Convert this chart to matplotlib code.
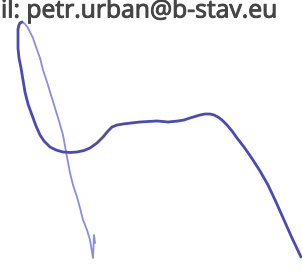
import matplotlib.pyplot as plt
import matplotlib.patheffects as pe

# light up-stroke, from the hook at the bottom up to the top of the loop
up_x = [95, 94, 93, 90, 87, 83, 80, 77, 73, 70, 67, 65, 63, 59, 55, 51, 47, 43, 40,
        36, 33, 30, 28, 25, 22]
up_y = [243, 235, 258, 240, 230, 220, 208, 197, 185, 173, 157, 146, 135, 121, 108, 95,
        82, 70, 58, 47, 38, 32, 28, 24, 22]

# darker main stroke, down the left side, along the top and off to the right
main_x = [22, 20, 19, 18, 18, 18, 19, 21, 23, 25, 28, 32, 36, 40, 44, 50, 56, 63, 70,
          77, 84, 90, 97, 103, 108, 112, 117, 123, 131, 140, 148, 157, 163, 168, 173,
          178, 184, 190, 195, 200, 205, 210, 214, 218, 222, 227, 232, 237, 244, 251,
          260, 268, 276, 284, 292, 301]
main_y = [22, 23, 25, 29, 36, 48, 58, 68, 80, 92, 104, 115, 126, 135, 141, 147, 150, 152,
          152.5, 152, 150.5, 148, 143, 137, 131, 127, 125, 124, 123, 122, 121.5, 121,
          121.5, 122, 121.5, 121, 120, 118, 116.5, 115, 114, 114, 115, 117, 120, 125,
          131, 138, 147, 157, 171, 185, 202, 220, 238, 257]

label = "il: petr.urban@b-stav.eu"

fig = plt.figure(figsize=(3.02, 2.71), dpi=100)
ax = fig.add_axes([0, 0, 1, 1])
ax.set_xlim(0, 302)
ax.set_ylim(271, 0)
ax.axis('off')

ax.plot(up_x, up_y, color='#8c8ce0', lw=1.3, solid_capstyle='round',
        solid_joinstyle='round')
ax.plot(main_x, main_y, color='#4a4ab4', lw=2.0, solid_capstyle='round',
        solid_joinstyle='round')

t = ax.text(1, 17.5, label, fontsize=14.6, family='Open Sans', color='#454545',
            ha='left', va='baseline',
            path_effects=[pe.withStroke(linewidth=0.7, foreground='#454545')])

# size the font so the line spans about the same width as in the scan
fig.canvas.draw()
w = t.get_window_extent().width
t.set_fontsize(14.6 * 276 / w)

fig.savefig('out.png', dpi=100)
